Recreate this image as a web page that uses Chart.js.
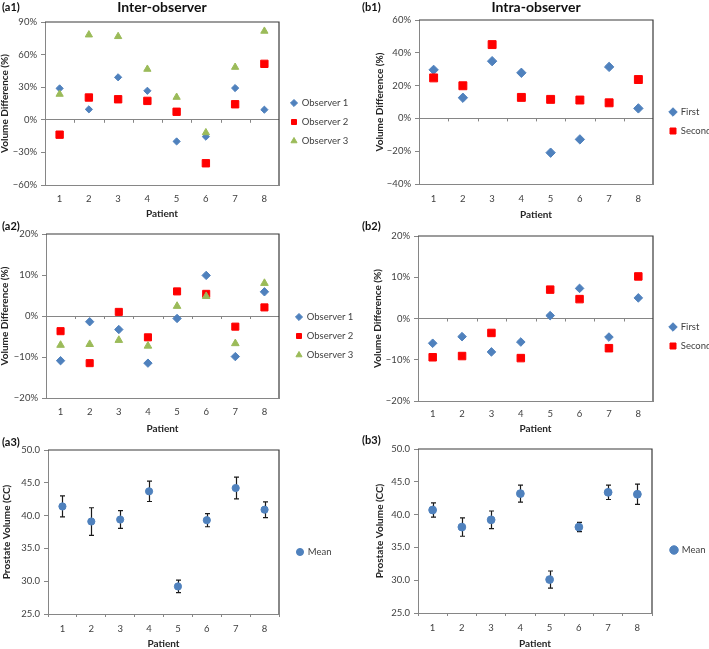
<!DOCTYPE html>
<html>
<head>
<meta charset="utf-8">
<script src="https://cdn.jsdelivr.net/npm/chart.js@4.4.1/dist/chart.umd.min.js"></script>
<style>
  html, body { margin: 0; padding: 0; background: #fff; overflow: hidden; }
  #wrap { position: relative; width: 709px; height: 649px; overflow: hidden; }
  canvas { position: absolute; }
  .tag { position: absolute; font: bold 11px Lato, sans-serif; line-height: 12px; color: #111; }
</style>
</head>
<body>
<div id="wrap">
  <canvas id="a1"></canvas>
  <canvas id="b1"></canvas>
  <canvas id="a2"></canvas>
  <canvas id="b2"></canvas>
  <canvas id="a3"></canvas>
  <canvas id="b3"></canvas>
  <div class="tag" style="left:2px;top:1px">(a1)</div>
  <div class="tag" style="left:362px;top:1px">(b1)</div>
  <div class="tag" style="left:2px;top:220px">(a2)</div>
  <div class="tag" style="left:362px;top:220px">(b2)</div>
  <div class="tag" style="left:2px;top:436px">(a3)</div>
  <div class="tag" style="left:362px;top:434px">(b3)</div>
</div>
<script>
// data
const patients = ['1', '2', '3', '4', '5', '6', '7', '8'];

const a1Obs1 = [28.9, 9.6, 39.1, 26.7, -19.9, -15.5, 29.2, 9.3];
const a1Obs2 = [-13.7, 20.5, 18.9, 17.4, 7.4, -40.0, 14.3, 51.5];
const a1Obs3 = [23.6, 78.2, 76.7, 46.6, 20.8, -11.8, 48.4, 81.6];

const a2Obs1 = [-10.9, -1.4, -3.3, -11.5, -0.6, 9.9, -9.9, 5.9];
const a2Obs2 = [-3.7, -11.5, 1.0, -5.2, 6.0, 5.4, -2.6, 2.1];
const a2Obs3 = [-7.1, -6.9, -5.9, -7.3, 2.4, 4.8, -6.7, 8.0];

const b1First = [29.6, 12.6, 34.9, 27.8, -20.9, -12.8, 31.4, 6.1];
const b1Second = [24.7, 19.9, 45.0, 12.8, 11.6, 11.2, 9.5, 23.7];

const b2First = [-6.0, -4.4, -8.1, -5.7, 0.7, 7.3, -4.5, 5.0];
const b2Second = [-9.4, -9.1, -3.5, -9.6, 7.0, 4.7, -7.2, 10.2];

const a3Mean = [41.4, 39.1, 39.4, 43.7, 29.2, 39.3, 44.2, 40.9];
const a3Err = [1.6, 2.1, 1.35, 1.55, 0.95, 1.0, 1.65, 1.2];

const b3Mean = [40.7, 38.1, 39.2, 43.2, 30.1, 38.1, 43.4, 43.1];
const b3Err = [1.1, 1.4, 1.35, 1.3, 1.3, 0.7, 1.1, 1.55];

const BLUE = '#4F81BD', RED = '#FF0000', GREEN = '#9BBB59';
const AXIS = '#868686', FRAME = '#3a3a3a';

const FAMILY = "Lato, 'Liberation Sans', sans-serif";
Chart.defaults.font.family = FAMILY;
Chart.defaults.color = '#404040';

// panel boxes on the page (canvas rect + plot area + legend anchor)
const boxes = {
  a1: { x: 0, y: 0, w: 380, h: 219, l: 45, t: 22, r: 279, b: 185, padL: 0, legX: 294, legY: 103, tickPad: 8.6 },
  b1: { x: 355, y: 0, w: 380, h: 220, l: 419, t: 20, r: 653, b: 184, padL: 20, legX: 673, legY: 112, tickPad: 9.6 },
  a2: { x: 0, y: 219, w: 380, h: 215, l: 46, t: 234, r: 279, b: 398, padL: 0, legX: 299, legY: 317, tickPad: 8 },
  b2: { x: 355, y: 219, w: 380, h: 215, l: 418, t: 236, r: 653, b: 401, padL: 18, legX: 673, legY: 327, tickPad: 7.3 },
  a3: { x: 0, y: 434, w: 380, h: 215, l: 48, t: 450, r: 279, b: 614, padL: 2, legX: 300, legY: 552, tickPad: 6.3 },
  b3: { x: 355, y: 434, w: 380, h: 215, l: 418, t: 449, r: 652, b: 613, padL: 20, legX: 674, legY: 550, tickPad: 6.6 }
};

const LEG_FONT = 9.5, LEG_PAD = 9.5, LEG_BOX = 6;

const pct = v => (v < 0 ? '\u2212' + Math.abs(v) : v) + '%';
const dec = v => v.toFixed(1);

// width the legend would take on its own, so the plot area lands where it should
const measure = document.createElement('canvas').getContext('2d');
measure.font = 'normal ' + LEG_FONT + 'px ' + FAMILY;
const legendWidth = labels =>
  LEG_PAD + LEG_BOX + LEG_FONT / 2 + Math.max(...labels.map(t => measure.measureText(t).width)) + 10;

// top + right border of the plot box
const frame = {
  id: 'frame',
  beforeDatasetsDraw(chart) {
    const { ctx, chartArea: a } = chart;
    ctx.save();
    ctx.strokeStyle = FRAME;
    ctx.lineWidth = 1.2;
    ctx.beginPath();
    ctx.moveTo(a.left, a.top);
    ctx.lineTo(a.right, a.top);
    ctx.lineTo(a.right, a.bottom);
    ctx.stroke();
    ctx.restore();
  }
};

// little tick marks hanging under the 0 line
const zeroTicks = {
  id: 'zeroTicks',
  beforeDatasetsDraw(chart) {
    const { ctx } = chart;
    const x = chart.scales.x, y = chart.scales.y;
    const y0 = y.getPixelForValue(0);
    ctx.save();
    ctx.strokeStyle = AXIS;
    ctx.lineWidth = 1;
    ctx.beginPath();
    for (let i = 0; i < patients.length; i++) {
      const px = i < patients.length - 1
        ? (x.getPixelForValue(i) + x.getPixelForValue(i + 1)) / 2
        : chart.chartArea.right;
      ctx.moveTo(Math.round(px) + 0.5, y0);
      ctx.lineTo(Math.round(px) + 0.5, y0 + 3);
    }
    ctx.stroke();
    ctx.restore();
  }
};

const errorBars = errs => ({
  id: 'errorBars',
  beforeDatasetsDraw(chart) {
    const { ctx } = chart;
    const y = chart.scales.y;
    const vals = chart.data.datasets[0].data;
    const pts = chart.getDatasetMeta(0).data;
    ctx.save();
    ctx.strokeStyle = '#1a1a1a';
    ctx.lineWidth = 1.2;
    ctx.beginPath();
    pts.forEach((p, i) => {
      const hi = y.getPixelForValue(vals[i] + errs[i]);
      const lo = y.getPixelForValue(vals[i] - errs[i]);
      const px = Math.round(p.x) + 0.5;
      ctx.moveTo(px, hi); ctx.lineTo(px, lo);
      ctx.moveTo(px - 2.5, hi); ctx.lineTo(px + 2.5, hi);
      ctx.moveTo(px - 2.5, lo); ctx.lineTo(px + 2.5, lo);
    });
    ctx.stroke();
    ctx.restore();
  }
});

function series(label, data, style, color, radius, order) {
  return {
    label, data, order,
    showLine: false,
    pointStyle: style,
    pointRadius: radius,
    backgroundColor: color,
    borderColor: color,
    pointBackgroundColor: color,
    pointBorderColor: color,
    pointBorderWidth: 1
  };
}

function makePanel(id, cfg) {
  const L = boxes[id];
  const canvas = document.getElementById(id);
  canvas.width = L.w;
  canvas.height = L.h;
  canvas.style.left = L.x + 'px';
  canvas.style.top = L.y + 'px';

  const legLeft = L.legX - LEG_PAD - LEG_BOX / 2;
  const n = cfg.datasets.length;
  const rowH = LEG_FONT + LEG_PAD;
  const legTitle = 2 * (L.legY - LEG_FONT / 2) - L.t - LEG_PAD - L.b + n * rowH;
  // cap a little under the natural width so the cap always wins
  const legW = legendWidth(cfg.datasets.map(d => d.label)) - 4;

  const plugins = [frame];
  if (cfg.zero) plugins.push(zeroTicks);
  if (cfg.errs) plugins.push(errorBars(cfg.errs));

  return new Chart(canvas, {
    type: 'line',
    data: { labels: patients, datasets: cfg.datasets },
    options: {
      responsive: false,
      animation: false,
      layout: {
        padding: {
          left: L.padL,
          top: cfg.title ? 0 : L.t - L.y,
          right: L.x + L.w - legLeft - legW,
          bottom: 0
        }
      },
      plugins: {
        title: cfg.title ? {
          display: true,
          text: cfg.title,
          fullSize: false,
          color: '#111',
          font: { size: 14, weight: 'bold', lineHeight: 1 },
          padding: { top: 0, bottom: L.t - L.y - 14 }
        } : { display: false },
        legend: {
          position: 'right',
          fullSize: false,
          maxWidth: legW,
          align: 'center',
          title: { display: true, text: '', font: { size: 10, lineHeight: 1 }, padding: { top: legTitle - 10, bottom: 0 } },
          labels: {
            usePointStyle: true,
            boxWidth: LEG_BOX,
            boxHeight: cfg.legBox || 5,
            padding: LEG_PAD,
            color: '#404040',
            font: { size: LEG_FONT },
            sort: (a, b) => a.datasetIndex - b.datasetIndex
          }
        },
        tooltip: { enabled: false }
      },
      scales: {
        x: {
          type: 'category',
          offset: true,
          grid: { offset: true, drawOnChartArea: false, drawTicks: !!cfg.errs, tickLength: 3, color: AXIS },
          border: { color: AXIS },
          ticks: { padding: L.tickPad, font: { size: 9.5 } },
          title: { display: true, text: 'Patient', color: '#262626', font: { size: 10, weight: 'bold', lineHeight: 1 }, padding: 0 },
          afterFit: s => { s.height = L.y + L.h - L.b; }
        },
        y: {
          type: 'linear',
          min: cfg.min,
          max: cfg.max,
          ticks: { stepSize: cfg.step, callback: cfg.fmt, padding: 4, font: { size: 9.5 } },
          grid: {
            color: c => (c.tick && c.tick.value === 0 ? AXIS : 'transparent'),
            tickColor: AXIS,
            tickLength: 4
          },
          border: { color: AXIS },
          title: { display: true, text: cfg.yTitle, color: '#262626', font: { size: 10, weight: 'bold', lineHeight: 1 }, padding: 0 },
          afterFit: s => { s.width = L.l - L.x - L.padL; }
        },
        y2: {
          type: 'linear',
          position: 'right',
          display: true,
          grid: { display: false },
          border: { display: false },
          ticks: { display: false },
          afterFit: s => { s.width = legLeft - L.r; }
        }
      }
    },
    plugins
  });
}

const diffTitle = 'Volume Difference (%)';
const volTitle = 'Prostate Volume (CC)';

makePanel('a1', {
  title: 'Inter-observer', zero: true, min: -60, max: 90, step: 30, fmt: pct, yTitle: diffTitle,
  datasets: [
    series('Observer 1', a1Obs1, 'rectRot', BLUE, 3.6, 3),
    series('Observer 2', a1Obs2, 'rect', RED, 5.2, 2),
    series('Observer 3', a1Obs3, 'triangle', GREEN, 4.2, 1)
  ]
});

makePanel('b1', {
  title: 'Intra-observer', zero: true, min: -40, max: 60, step: 20, fmt: pct, yTitle: diffTitle, legBox: 6,
  datasets: [
    series('First', b1First, 'rectRot', BLUE, 4.7, 2),
    series('Second', b1Second, 'rect', RED, 5.6, 1)
  ]
});

makePanel('a2', {
  zero: true, min: -20, max: 20, step: 10, fmt: pct, yTitle: diffTitle,
  datasets: [
    series('Observer 1', a2Obs1, 'rectRot', BLUE, 4.2, 3),
    series('Observer 2', a2Obs2, 'rect', RED, 5.0, 2),
    series('Observer 3', a2Obs3, 'triangle', GREEN, 4.4, 1)
  ]
});

makePanel('b2', {
  zero: true, min: -20, max: 20, step: 10, fmt: pct, yTitle: diffTitle, legBox: 6,
  datasets: [
    series('First', b2First, 'rectRot', BLUE, 4.3, 2),
    series('Second', b2Second, 'rect', RED, 5.3, 1)
  ]
});

makePanel('a3', {
  min: 25, max: 50, step: 5, fmt: dec, yTitle: volTitle, errs: a3Err,
  datasets: [series('Mean', a3Mean, 'circle', BLUE, 3.6, 1)]
});

makePanel('b3', {
  min: 25, max: 50, step: 5, fmt: dec, yTitle: volTitle, errs: b3Err, legBox: 6,
  datasets: [series('Mean', b3Mean, 'circle', BLUE, 3.9, 1)]
});
</script>
</body>
</html>
